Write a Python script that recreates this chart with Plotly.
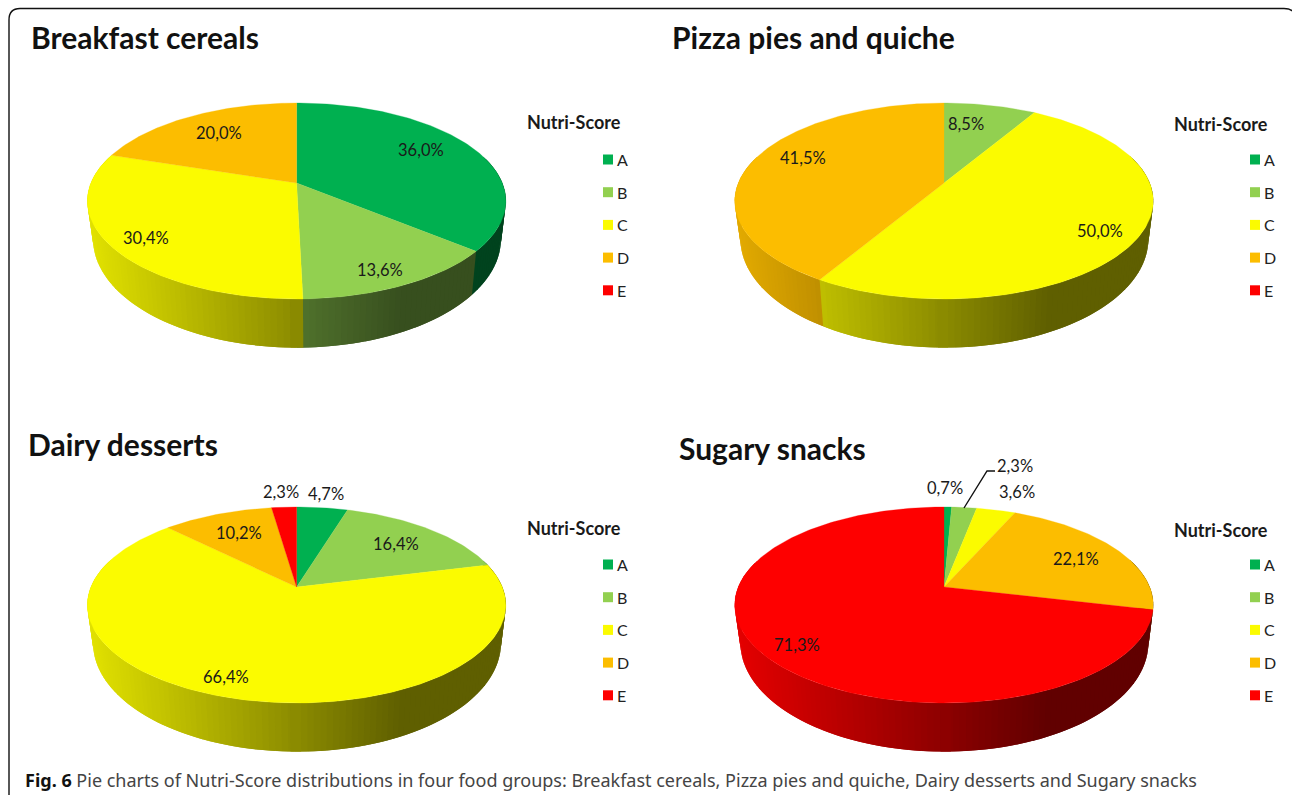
import numpy as np
import plotly.graph_objects as go

# ---- data ----
categories = ["A", "B", "C", "D", "E"]
colors = ["#00B050", "#92D050", "#FBFB00", "#FCBD00", "#FE0000"]
breakfast_cereals = [36.0, 13.6, 30.4, 20.0, 0.0]
pizza_pies_quiche = [0.0, 8.5, 50.0, 41.5, 0.0]
dairy_desserts = [4.7, 16.4, 66.4, 10.2, 2.3]
sugary_snacks = [0.7, 2.3, 3.6, 22.1, 71.3]
titles = ["Breakfast cereals", "Pizza pies and quiche", "Dairy desserts", "Sugary snacks"]
legend_title = "Nutri-Score"
caption_bold = "Fig. 6"
caption_text = " Pie charts of Nutri-Score distributions in four food groups: Breakfast cereals, Pizza pies and quiche, Dairy desserts and Sugary snacks"

# ---- layout tables (pixels of the 1292x795 page) ----
W, H = 1292, 795
series = [breakfast_cereals, pizza_pies_quiche, dairy_desserts, sugary_snacks]
centers = [(296.6, 183), (944, 183), (296.6, 587), (944, 587)]
title_pos = [(29, 37), (670, 37), (26, 444), (677, 448)]
legend_x = [525, 1172, 525, 1172]
legend_title_y = [122, 124, 528, 530]
legend_y0 = [159.5, 159.5, 564.5, 564.5]
legend_dy = 32.7
label_pos = [
    [(421, 150), (380, 270), (146, 238), (219, 133)],
    [(966, 124), (1100, 231), (803, 158)],
    [(326, 494), (396, 544), (226, 677), (239, 533), (281, 492)],
    [(945, 488), (1015, 466), (1017, 492), (1076, 559), (797, 645)],
]
K = 0.1837          # perspective of the tilted disc
TOP_A, TOP_B = 205.7, 94.7
BASE_A, BASE_B = 200.5, 105.0
BASE_DX, BASE_DY = 0.4, 36.0
FONT = "Lato"
STEP = 1.5


def project(cx, cy, a, b, theta):
    """Clockwise angle from 12 o'clock -> page pixels on the tilted disc."""
    s, c = np.sin(theta), np.cos(theta)
    w = 1 + K * c
    return cx + a * s / w, cy - b * c / w


def shade(u):
    return float(np.clip(0.9 - (u + 1) * 0.52 / 1.5, 0.38, 0.9))


def scaled(hex_color, f):
    r, g, b = (int(hex_color[i:i + 2], 16) for i in (1, 3, 5))
    return f"rgb({r * f:.0f},{g * f:.0f},{b * f:.0f})"


fig = go.Figure()
annotations = []

for idx, values in enumerate(series):
    cx, cy = centers[idx]
    ends = np.cumsum(values) / 100 * 2 * np.pi
    starts = ends - np.array(values) / 100 * 2 * np.pi

    # side wall, back to front; every band runs on under its nearer neighbour
    quads = []
    step = np.radians(STEP)
    for v, col, a0, a1 in zip(values, colors, starts, ends):
        if v <= 0:
            continue
        n = max(1, int(np.ceil(np.degrees(a1 - a0) / STEP)))
        edges = np.linspace(a0, a1, n + 1)
        for t0, t1 in zip(edges[:-1], edges[1:]):
            tm = (t0 + t1) / 2
            if np.cos(tm) < 0.3:
                quads.append((np.cos(tm), t0, t1, col))
    quads.sort(key=lambda q: -q[0])
    for _, t0, t1, col in quads:
        um = (project(cx, cy, TOP_A, TOP_B, (t0 + t1) / 2)[0] - cx) / 209.0
        if (t0 + t1) / 2 < np.pi:
            t1 = min(t1 + step, np.pi + step)
        else:
            t0 = max(t0 - step, np.pi - step)
        x0, y0 = project(cx, cy, TOP_A, TOP_B, t0)
        x1, y1 = project(cx, cy, TOP_A, TOP_B, t1)
        x2, y2 = project(cx + BASE_DX, cy + BASE_DY, BASE_A, BASE_B, t1)
        x3, y3 = project(cx + BASE_DX, cy + BASE_DY, BASE_A, BASE_B, t0)
        c = scaled(col, shade(um))
        fig.add_trace(go.Scatter(
            x=[x0, x1, x2, x3, x0], y=[y0, y1, y2, y3, y0], mode="lines",
            fill="toself", fillcolor=c, line=dict(color=c, width=0),
            hoverinfo="skip", showlegend=False))

    # top surface
    for cat, v, col, a0, a1 in zip(categories, values, colors, starts, ends):
        if v <= 0:
            continue
        th = np.linspace(a0, a1, max(2, int(np.degrees(a1 - a0)) + 2))
        px, py = project(cx, cy, TOP_A, TOP_B, th)
        fig.add_trace(go.Scatter(
            x=np.r_[cx, px, cx], y=np.r_[cy, py, cy], mode="lines",
            fill="toself", fillcolor=col, line=dict(color=col, width=0.3),
            name=f"{titles[idx]} {cat}", hovertemplate=f"{cat}: {v}%<extra></extra>",
            showlegend=False))

    # value labels
    shown = [v for v in values if v > 0]
    for v, (lx, ly) in zip(shown, label_pos[idx]):
        annotations.append(dict(
            x=lx, y=ly, xref="x", yref="y", showarrow=False,
            text=f"{v:.1f}%".replace(".", ","),
            font=dict(family=FONT, size=16.5, color="#1a1a1a")))

    # title
    tx, ty = title_pos[idx]
    annotations.append(dict(
        x=tx, y=ty, xref="x", yref="y", xanchor="left", showarrow=False,
        text=f"<b>{titles[idx]}</b>", font=dict(family=FONT, size=30, color="#111")))

    # legend
    lx = legend_x[idx]
    annotations.append(dict(
        x=lx, y=legend_title_y[idx], xref="x", yref="y", xanchor="left", showarrow=False,
        text=f"<b>{legend_title}</b>", font=dict(family=FONT, size=18, color="#1a1a1a")))
    ly = [legend_y0[idx] + i * legend_dy for i in range(len(categories))]
    fig.add_trace(go.Scatter(
        x=[lx + 83] * len(categories), y=ly, mode="markers",
        marker=dict(symbol="square", size=10, color=colors, line=dict(width=0)),
        hoverinfo="skip", showlegend=False))
    for cat, yy in zip(categories, ly):
        annotations.append(dict(
            x=lx + 90, y=yy, xref="x", yref="y", xanchor="left", showarrow=False,
            text=cat, font=dict(family=FONT, size=16, color="#222")))

# leader line of the 2,3 % label
fig.add_trace(go.Scatter(
    x=[964, 987, 995], y=[508, 471, 471], mode="lines",
    line=dict(color="#111", width=1.4), hoverinfo="skip", showlegend=False))

# caption
annotations.append(dict(
    x=23, y=780, xref="x", yref="y", xanchor="left", showarrow=False,
    text=f"<span style='color:#111'><b>{caption_bold}</b></span>{caption_text}",
    font=dict(family="Noto Sans", size=18, color="#444")))

frame = "M 9 795 L 9 20 Q 9 8.5 20 8.5 L 1284 8.5 Q 1296 8.5 1296 20"

fig.update_layout(
    width=W, height=H, margin=dict(l=0, r=0, t=0, b=0),
    paper_bgcolor="white", plot_bgcolor="white", showlegend=False,
    xaxis=dict(range=[0, W], visible=False, fixedrange=True),
    yaxis=dict(range=[H, 0], visible=False, fixedrange=True),
    annotations=annotations,
    shapes=[dict(type="path", path=frame, line=dict(color="#111", width=1.4), xref="x", yref="y")],
)
fig.write_html("out.html", config=dict(displayModeBar=False),
               post_script="document.body.style.margin='0';document.body.style.overflow='hidden';")
